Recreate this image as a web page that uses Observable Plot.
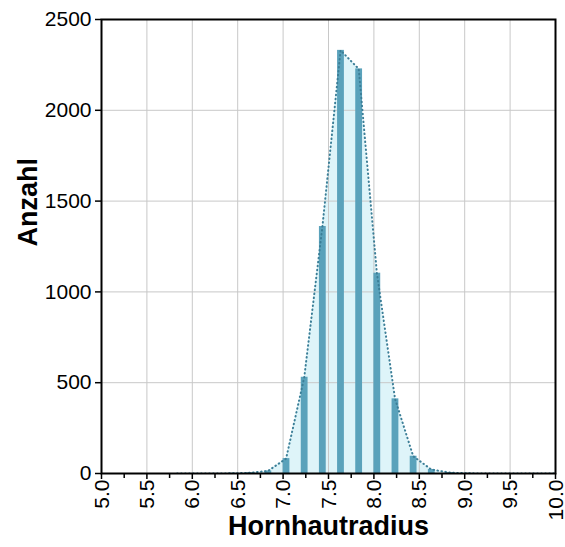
<!DOCTYPE html>
<html>
<head>
<meta charset="utf-8">
<script src="https://cdn.jsdelivr.net/npm/d3@7"></script>
<script src="https://cdn.jsdelivr.net/npm/@observablehq/plot@0.6"></script>
<style>
  html, body { margin: 0; padding: 0; background: #fff; }
</style>
</head>
<body>
<div id="chart"></div>
<script>
const bins = [5.8, 6.0, 6.2, 6.4, 6.6, 6.8, 7.0, 7.2, 7.4, 7.6, 7.8, 8.0, 8.2, 8.4, 8.6, 8.8, 9.0, 9.2, 9.4, 9.6, 9.8, 10.0];
const counts = [0, 0, 0, 1, 4, 14, 82, 530, 1360, 2330, 2228, 1103, 411, 95, 22, 5, 1, 0, 0, 0, 0, 0];
const xTicks = [5.0, 5.5, 6.0, 6.5, 7.0, 7.5, 8.0, 8.5, 9.0, 9.5, 10.0];
const xMinor = [5.25, 5.75, 6.25, 6.75, 7.25, 7.75, 8.25, 8.75, 9.25, 9.75];
const yTicks = [0, 500, 1000, 1500, 2000, 2500];
const xTitle = "Hornhautradius";
const yTitle = "Anzahl";

const data = bins.map((b, i) => ({x: b, n: counts[i]}));
const barData = data.filter(d => d.n > 0);
const fmtX = d3.format(".1f");

const chart = Plot.plot({
  width: 565,
  height: 547,
  marginLeft: 101,
  marginRight: 10,
  marginTop: 19,
  marginBottom: 74,
  style: {fontFamily: "'Liberation Sans', Arial, sans-serif", color: "#000", background: "#fff"},
  x: {domain: [5, 10]},
  y: {domain: [0, 2500]},
  marks: [
    Plot.areaY(data, {x: "x", y: "n", dx: 3, fill: "#def4f9", clip: true}),
    Plot.gridX(xTicks, {stroke: "#c8c8c8", strokeOpacity: 1}),
    Plot.gridY(yTicks, {stroke: "#c8c8c8", strokeOpacity: 1}),
    Plot.rectY(barData, {x1: "x", x2: d => d.x + 0.075, y: "n", fill: "#5aa2bb"}),
    Plot.lineY(data, {x: "x", y: "n", dx: 3, stroke: "#3b7e97", strokeWidth: 2, strokeDasharray: "0.5,3.5", strokeLinecap: "round", clip: true}),
    Plot.axisY(yTicks, {tickSize: 6, tickFormat: () => "", label: null, strokeWidth: 1.5}),
    Plot.axisX(xTicks, {tickSize: 6, tickFormat: () => "", label: null, strokeWidth: 1.5}),
    Plot.axisX(xMinor, {tickSize: 5, tickFormat: () => "", label: null, strokeWidth: 1.5}),
    Plot.text(yTicks, {y: d => d, text: d => String(d), frameAnchor: "left", textAnchor: "end", dx: -10, fontSize: 21, fill: "#000"}),
    Plot.text(xTicks, {x: d => d, text: d => fmtX(d), frameAnchor: "bottom", rotate: -90, textAnchor: "end", dx: 7, dy: 6, fontSize: 21, fill: "#000"}),
    Plot.frame({stroke: "#000", strokeWidth: 2}),
    Plot.text([xTitle], {frameAnchor: "bottom", dy: 61, fontSize: 27, fontWeight: "bold", fill: "#000"}),
    Plot.text([yTitle], {frameAnchor: "left", rotate: -90, dx: -73, fontSize: 27, fontWeight: "bold", fill: "#000"})
  ]
});
document.getElementById("chart").append(chart);
</script>
</body>
</html>
